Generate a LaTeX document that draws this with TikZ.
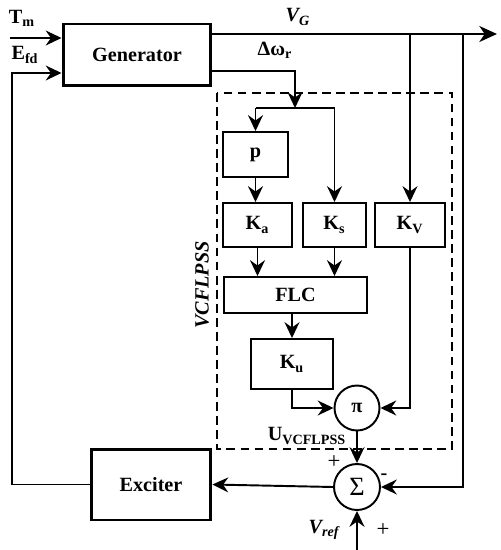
\documentclass[tikz,border=0pt]{standalone}
\usepackage{fontspec}
\setmainfont{Liberation Serif}
\usetikzlibrary{arrows.meta,positioning,calc}

\tikzset{
  blk/.style={draw,line width=1.1pt,minimum width=#1,inner sep=0pt},
  bigblk/.style={draw,line width=1.7pt,inner sep=0pt},
  opnode/.style={draw,circle,line width=1.1pt,minimum size=0.9cm,inner sep=0pt},
  sig/.style={line width=1.1pt,-{Stealth[length=9pt,width=8.5pt,inset=3pt]}},
  wire/.style={line width=1.1pt}
}

\begin{document}
\begin{tikzpicture}[x=0.02cm,y=-0.02cm,font=\fontsize{11.5}{13}\selectfont\bfseries]
  \useasboundingbox (0,0) rectangle (500,550);

  % main blocks
  \node[bigblk,minimum width=2.96cm,minimum height=1.24cm] (gen) at (137,55) {Generator};
  \node[bigblk,minimum width=2.4cm,minimum height=1.42cm] (exc) at (151,484.5) {Exciter};

  % stabiliser blocks
  \draw[dashed,line width=0.8pt,dash pattern=on 5pt off 3pt] (217,93) rectangle (452,449);
  \node[blk=1.3cm,minimum height=0.9cm] (p) at (255.5,154.5) {p};
  \node[blk=1.38cm,minimum height=0.88cm] (ka) at (257.5,225) {K\textsubscript{a}};
  \node[blk=1.26cm,minimum height=0.88cm] (ks) at (334.5,225) {K\textsubscript{s}};
  \node[blk=1.4cm,minimum height=0.88cm] (kv) at (410,225) {K\textsubscript{V}};
  \node[blk=2.86cm,minimum height=0.72cm] (flc) at (295.5,295) {FLC};
  \node[blk=1.64cm,minimum height=1cm] (ku) at (292,364) {K\textsubscript{u}};
  \node[opnode] (prod) at (357,408) {π};
  \node[opnode,minimum size=0.92cm,font=\fontsize{15}{15}\selectfont] (sum) at (357,487) {Σ};

  % free ends
  \coordinate (tmin) at (10,38);
  \coordinate (vgout) at (497,34);
  \coordinate (split) at (295,108);
  \coordinate (vref) at (357,550);
  \coordinate (fbk) at (463,34);

  % generator connections
  \draw[sig] (tmin) -- (tmin -| gen.west);
  \draw[line width=1.7pt,-{Stealth[length=10pt,width=9pt,inset=3pt]}] (gen.east |- vgout) -- (vgout);
  \draw[sig] (gen.east |- 0,71) -| (split);
  \draw[wire] (split -| p.north) -- (split -| ks.north);
  \draw[sig] (split -| p.north) -- (p.north);
  \draw[sig] (split -| ks.north) -- (ks.north);
  \draw[sig] (p.south) -- (p.south |- ka.north);
  \draw[sig] (ka.south) -- (ka.south |- flc.north);
  \draw[sig] (ks.south) -- (ks.south |- flc.north);
  \draw[sig] (kv.north |- vgout) -- (kv.north);
  \draw[sig] (ku.north |- flc.south) -- (ku.north);
  \draw[sig] (ku.south) |- (prod.west);
  \draw[sig] (kv.south) |- (prod.east);
  \draw[sig] (prod.south) -- (sum.north);
  \draw[sig] (fbk) |- (sum.east);
  \draw[sig] (vref) -- (sum.south);
  \draw[sig] (sum.west) -- (exc.east);
  \draw[sig] (exc.west) -- (12,484.5) |- (gen.west |- 0,73);

  % labels
  \node (tm) at (22,18) {T\textsubscript{m}};
  \node (efd) at (25,55) {E\textsubscript{fd}};
  \node (vg) at (298,17) {\textit{V\textsubscript{G}}};
  \node (dw) at (275,50) {Δω\textsubscript{r}};
  \node (ulab) at (307,436) {U\textsubscript{VCFLPSS}};
  \node[rotate=90] (pss) at (202,285) {\textit{VCFLPSS}};
  \node[font=\fontsize{13}{14}\selectfont] (plus1) at (334,462) {+};
  \node (minus) at (384,477) {-};
  \node[font=\fontsize{13}{14}\selectfont] (plus2) at (383,530) {+};
  \node (vrefl) at (324,530) {\textit{V\textsubscript{ref}}};
\end{tikzpicture}
\end{document}
